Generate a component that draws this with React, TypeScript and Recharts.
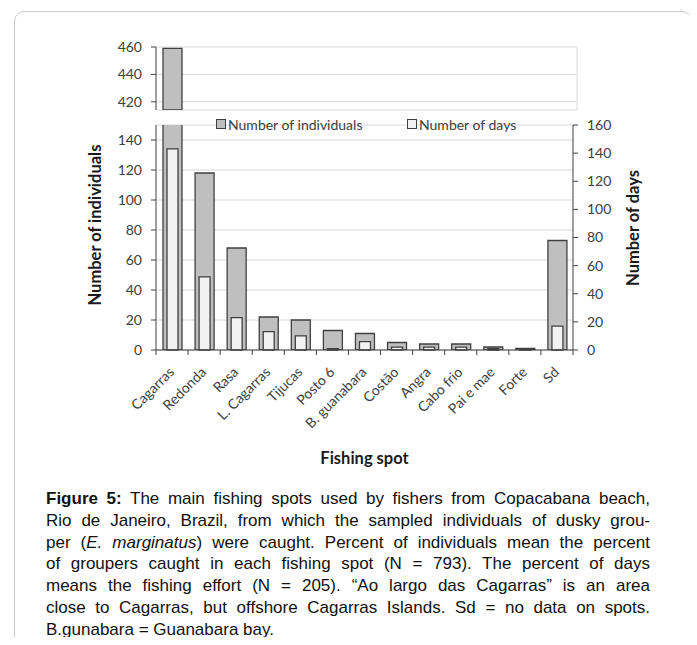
import { BarChart, Bar, XAxis, YAxis, CartesianGrid, Legend, Label } from "recharts";

const spots = ["Cagarras", "Redonda", "Rasa", "L. Cagarras", "Tijucas", "Posto 6", "B. guanabara", "Costão", "Angra", "Cabo frio", "Pai e mae", "Forte", "Sd"];
const individuals = [459, 118, 68, 22, 20, 13, 11, 5, 4, 4, 2, 1, 73];
const days = [143, 52, 23, 13, 10, 1, 6, 2, 2, 2, 1, 1, 17];

const lowerTicks = [0, 20, 40, 60, 80, 100, 120, 140];
const upperTicks = [420, 440, 460];
const daysTicks = [0, 20, 40, 60, 80, 100, 120, 140, 160];

const LOWER_MAX = 150;
const UPPER_MIN = 414;
const UPPER_MAX = 460;

const FONT = "Lato, 'Open Sans', sans-serif";
const AXIS = "#404040";
const GRID = "#d9d9d9";

// plot area (page coords)
const PLOT_LEFT = 156;
const PLOT_RIGHT = 573;
const BAND = (PLOT_RIGHT - PLOT_LEFT) / spots.length;

const rows = spots.map((spot, i) => ({
  spot,
  individuals: individuals[i],
  days: days[i],
  upper: individuals[i] > UPPER_MIN ? individuals[i] : null,
}));

const tickStyle = { fontSize: 14, fill: AXIS, fontFamily: FONT };

const SpotTick = ({ x, y, payload, index }: any) => {
  const h = BAND / 2;
  const tx = x + 3;
  const ty = y + 23;
  return (
    <g>
      <line x1={x - h} x2={x - h} y1={y} y2={y + 5} stroke={AXIS} />
      {index === spots.length - 1 && <line x1={x + h} x2={x + h} y1={y} y2={y + 5} stroke={AXIS} />}
      <text x={tx} y={ty} transform={`rotate(-45 ${tx} ${ty})`} textAnchor="end" fontSize={14} fill={AXIS} fontFamily={FONT}>
        {payload.value}
      </text>
    </g>
  );
};

const LegendBox = () => (
  <div style={{ position: "relative", height: 18, fontFamily: FONT, fontSize: 14, color: AXIS }}>
    <div style={{ position: "absolute", left: 216, top: 3, width: 8, height: 8, background: "#bfbfbf", border: `1px solid ${AXIS}` }} />
    <div style={{ position: "absolute", left: 228, top: 0, whiteSpace: "nowrap" }}>Number of individuals</div>
    <div style={{ position: "absolute", left: 407, top: 3, width: 8, height: 8, background: "#f2f2f2", border: `1px solid ${AXIS}` }} />
    <div style={{ position: "absolute", left: 419, top: 0, whiteSpace: "nowrap" }}>Number of days</div>
  </div>
);

const titleStyle = { fontSize: 16.5, fontWeight: 700, fill: "#1a1a1a", fontFamily: FONT };

const captionLines: React.ReactNode[] = [
  <>
    <b>Figure 5:</b> The main fishing spots used by fishers from Copacabana beach,
  </>,
  "Rio de Janeiro, Brazil, from which the sampled individuals of dusky grou-",
  <>
    per (<i>E. marginatus</i>) were caught. Percent of individuals mean the percent
  </>,
  "of groupers caught in each fishing spot (N = 793). The percent of days",
  "means the fishing effort (N = 205). “Ao largo das Cagarras” is an area",
  "close to Cagarras, but offshore Cagarras Islands. Sd = no data on spots.",
  "B.gunabara = Guanabara bay.",
];

export default function App() {
  return (
    <div style={{ position: "relative", width: 697, height: 645, margin: -8, overflow: "hidden", background: "#fff" }}>
      <div style={{ position: "absolute", left: 14, top: 11, width: 676, height: 700, border: "1px solid #c9c9c9", borderRadius: 10 }} />

      {/* upper segment of the broken axis */}
      <div style={{ position: "absolute", left: 0, top: 0 }}>
        <BarChart width={697} height={130} data={rows} margin={{ top: 47, bottom: 20, left: PLOT_LEFT - 60, right: 697 - 577 }} baseValue={0}>
          <CartesianGrid stroke={GRID} vertical={true} verticalPoints={[577]} />
          <XAxis dataKey="spot" hide />
          <YAxis
            width={60}
            domain={[UPPER_MIN, UPPER_MAX]}
            ticks={upperTicks}
            allowDataOverflow
            axisLine={{ stroke: AXIS }}
            tickLine={{ stroke: AXIS }}
            tickSize={5}
            tickMargin={9}
            tick={tickStyle}
          />
          <Bar dataKey="upper" barSize={19} fill="#bfbfbf" stroke={AXIS} strokeWidth={1.3} isAnimationActive={false} />
        </BarChart>
      </div>

      {/* lower segment */}
      <div style={{ position: "absolute", left: 0, top: 0 }}>
        <BarChart width={697} height={470} data={rows} margin={{ top: 125, bottom: 0, left: PLOT_LEFT - 60, right: 697 - PLOT_RIGHT - 60 }}>
          <CartesianGrid stroke={GRID} vertical={false} yAxisId="left" xAxisId="x1" />
          <XAxis
            xAxisId="x1"
            dataKey="spot"
            height={120}
            interval={0}
            axisLine={{ stroke: AXIS }}
            tickLine={false}
            tickSize={0}
            tickMargin={0}
            tick={<SpotTick />}
          >
            <Label value="Fishing spot" position="insideBottom" offset={6} style={titleStyle} />
          </XAxis>
          <XAxis xAxisId="x2" dataKey="spot" hide />
          <YAxis
            yAxisId="left"
            width={60}
            domain={[0, LOWER_MAX]}
            ticks={lowerTicks}
            allowDataOverflow
            axisLine={{ stroke: AXIS }}
            tickLine={{ stroke: AXIS }}
            tickSize={5}
            tickMargin={9}
            tick={tickStyle}
          >
            <Label
              content={() => (
                <text x={95} y={225} transform="rotate(-90 95 225)" textAnchor="middle" dominantBaseline="central" style={titleStyle}>
                  Number of individuals
                </text>
              )}
            />
          </YAxis>
          <YAxis
            yAxisId="right"
            orientation="right"
            width={60}
            domain={[0, 160]}
            ticks={daysTicks}
            axisLine={{ stroke: AXIS }}
            tickLine={{ stroke: AXIS }}
            tickSize={5}
            tickMargin={9}
            tick={tickStyle}
          >
            <Label
              content={() => (
                <text x={633} y={228} transform="rotate(-90 633 228)" textAnchor="middle" dominantBaseline="central" style={titleStyle}>
                  Number of days
                </text>
              )}
            />
          </YAxis>
          <Legend layout="vertical" align="center" verticalAlign="middle" wrapperStyle={{ top: 116, left: 0, width: 697 }} content={() => <LegendBox />} />
          <Bar xAxisId="x1" yAxisId="left" dataKey="individuals" name="Number of individuals" barSize={19} fill="#bfbfbf" stroke={AXIS} strokeWidth={1.3} isAnimationActive={false} />
          <Bar xAxisId="x2" yAxisId="right" dataKey="days" name="Number of days" barSize={11} fill="#f2f2f2" stroke={AXIS} strokeWidth={1.3} isAnimationActive={false} />
        </BarChart>
      </div>

      <div
        style={{
          position: "absolute",
          left: 46,
          top: 488,
          width: 604,
          fontFamily: "'Liberation Sans', Arial, sans-serif",
          fontSize: 17,
          lineHeight: "21.8px",
          color: "#111",
        }}
      >
        {captionLines.map((line, i) => (
          <div key={i} style={{ whiteSpace: "nowrap", textAlign: "justify", textAlignLast: i === captionLines.length - 1 ? "left" : "justify" }}>
            {line}
          </div>
        ))}
      </div>
    </div>
  );
}
